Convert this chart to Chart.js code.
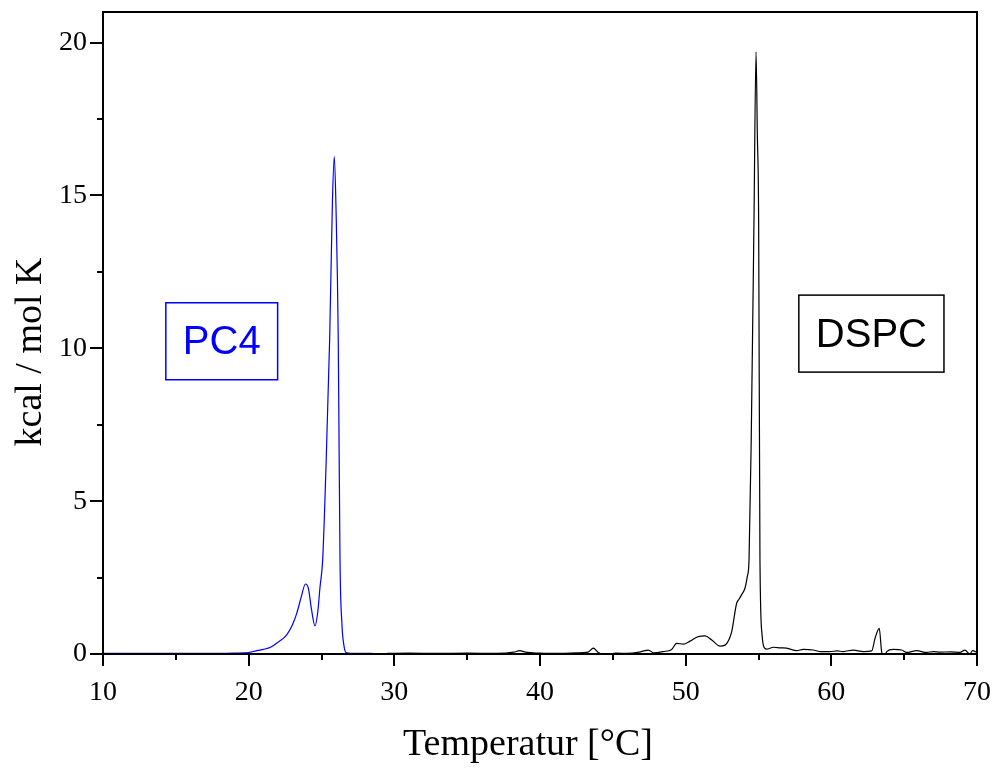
<!DOCTYPE html>
<html lang="de">
<head>
<meta charset="UTF-8">
<title>DSC PC4 / DSPC</title>
<style>
    html, body { margin: 0; padding: 0; background: #fff; overflow: hidden; }
    canvas { display: block; }
</style>
</head>
<body>
<canvas id="dsc" width="997" height="769"></canvas>
<script src="https://cdn.jsdelivr.net/npm/chart.js"></script>
<script>
    // PC4 Messkurve (Temperatur / Cp)
    const pc4Temp = [10, 12, 14, 16, 18, 19, 20, 20.5, 21, 21.5, 22, 22.6, 23, 23.3, 23.6, 23.9, 24.1, 24.3, 24.55,
        24.75, 24.9, 25.08, 25.3, 25.56, 25.75, 25.88, 26.0, 26.15, 26.27, 26.4, 26.55, 26.68, 27, 28, 28.5];
    const pc4Cp = [0.02, 0.02, 0.02, 0.02, 0.02, 0.03, 0.05, 0.1, 0.15, 0.22, 0.38, 0.62, 0.95, 1.33, 1.85, 2.29, 2.15, 1.5, 0.92,
        1.4, 2.2, 3.07, 6.0, 10.3, 14.8, 16.27, 14.5, 10.3, 3.07, 1.0, 0.25, 0.05, 0.02, 0.02, 0.02];

    // DSPC Messkurve
    const dspcTemp = [29.5, 31, 33, 35, 37, 38.2, 38.6, 39.0, 40, 41.5, 42.5, 43.3, 43.66, 44.0, 44.57, 45.2, 46, 46.8,
        47.44, 47.8, 48.46, 49.04, 49.38, 49.84, 50.3, 50.87, 51.33, 51.79, 52.36, 52.7, 53.0, 53.16, 53.5, 53.66,
        53.85, 54.07, 54.23, 54.35, 54.5, 54.69, 54.83, 54.92, 55.01, 55.1, 55.25, 55.38, 55.56, 56.02, 56.5, 56.93,
        57.62, 58.08, 58.76, 59.22, 59.9, 60.4, 60.82, 61.5, 62.2, 62.77, 63.0, 63.29, 63.45, 63.61, 63.8, 64.25,
        64.83, 65.17, 65.86, 66.54, 67.0, 67.46, 68.2, 68.83, 69.17, 69.51, 69.7, 70];
    const dspcCp = [0.02, 0.03, 0.02, 0.03, 0.02, 0.06, 0.11, 0.06, 0.03, 0.02, 0.04, 0.06, 0.19, 0.05, -0.03, 0.03, 0.02, 0.06,
        0.13, 0.04, 0.08, 0.15, 0.35, 0.32, 0.42, 0.57, 0.59, 0.46, 0.26, 0.29, 0.5, 0.73, 1.66, 1.79,
        1.95, 2.15, 2.53, 3.07, 7.0, 14.2, 19.7, 17.0, 14.2, 3.07, 0.6, 0.22, 0.16, 0.22, 0.2, 0.19,
        0.11, 0.15, 0.13, 0.08, 0.08, 0.1, 0.08, 0.13, 0.08, 0.1, 0.51, 0.84, 0.08, -0.14, 0.08, 0.15,
        0.13, 0.05, 0.11, 0.05, 0.08, 0.06, 0.07, 0.05, 0.13, 0.0, 0.11, 0.05];

    // Achsen
    const xTicksMajor = [10, 20, 30, 40, 50, 60, 70];
    const yTicksMajor = [0, 5, 10, 15, 20];

    // Beschriftungsboxen in Datenkoordinaten
    const labelBoxes = [
        { text: 'PC4', x: 18.15, y: 10.23, color: '#0000ff' },
        { text: 'DSPC', x: 62.75, y: 10.48, color: '#000000' }
    ];

    function toXY(xs, ys) {
        return xs.map((x, i) => ({ x: x, y: ys[i] }));
    }

    // Rahmen, Teilstriche, Titel und Boxen
    const framePlugin = {
        id: 'frame',
        afterDatasetsDraw(chart) {
            const ctx = chart.ctx;
            const a = chart.chartArea;
            const xs = chart.scales.x;
            const ys = chart.scales.y;
            ctx.save();
            ctx.strokeStyle = '#000';
            ctx.lineWidth = 2;
            ctx.strokeRect(a.left, a.top, a.right - a.left, a.bottom - a.top);

            ctx.beginPath();
            for (let v = 10; v <= 70; v += 5) {
                const px = Math.round(xs.getPixelForValue(v));
                const len = (v % 10 === 0) ? 12 : 6;
                ctx.moveTo(px, a.bottom);
                ctx.lineTo(px, a.bottom + len);
            }
            for (let v = 0; v <= 20; v += 2.5) {
                const py = Math.round(ys.getPixelForValue(v));
                const len = (v % 5 === 0) ? 13 : 6;
                ctx.moveTo(a.left, py);
                ctx.lineTo(a.left - len, py);
            }
            ctx.stroke();

            // Boxen
            ctx.font = '40px "Liberation Sans", Arial, sans-serif';
            ctx.textAlign = 'center';
            ctx.textBaseline = 'middle';
            labelBoxes.forEach(b => {
                const cx = xs.getPixelForValue(b.x);
                const cy = ys.getPixelForValue(b.y);
                const w = ctx.measureText(b.text).width + 34;
                const h = 77;
                ctx.strokeStyle = b.color;
                ctx.lineWidth = 1.5;
                ctx.strokeRect(cx - w / 2, cy - h / 2, w, h);
                ctx.fillStyle = b.color;
                ctx.fillText(b.text, cx, cy + 2);
            });

            // Achsentitel
            ctx.fillStyle = '#000';
            ctx.font = '38px "Liberation Serif", "Times New Roman", serif';
            ctx.textBaseline = 'alphabetic';
            ctx.fillText('Temperatur [°C]', 528, 755);
            ctx.save();
            ctx.translate(41, 352);
            ctx.rotate(-Math.PI / 2);
            ctx.fillText('kcal / mol K', 0, 0);
            ctx.restore();
            ctx.restore();
        }
    };

    const ctx = document.getElementById('dsc');
    new Chart(ctx, {
        type: 'line',
        data: {
            datasets: [{
                label: 'PC4',
                data: toXY(pc4Temp, pc4Cp),
                borderColor: '#0000ff',
                borderWidth: 1.2,
                pointRadius: 0,
                cubicInterpolationMode: 'monotone',
                fill: false
            }, {
                label: 'DSPC',
                data: toXY(dspcTemp, dspcCp),
                borderColor: '#000000',
                borderWidth: 1.2,
                pointRadius: 0,
                cubicInterpolationMode: 'monotone',
                fill: false
            }]
        },
        options: {
            responsive: false,
            animation: false,
            devicePixelRatio: 1,
            layout: { padding: { top: 12, right: 20, left: 0, bottom: 0 } },
            plugins: {
                legend: { display: false },
                tooltip: { enabled: false }
            },
            scales: {
                x: {
                    type: 'linear',
                    min: 10,
                    max: 70,
                    grid: { display: false, drawTicks: false },
                    border: { display: false },
                    afterBuildTicks: s => { s.ticks = xTicksMajor.map(v => ({ value: v })); },
                    afterFit: s => {
                        s.height = 115;
                        s.paddingLeft = 0;
                        s.paddingRight = 0;
                    },
                    ticks: {
                        padding: 22,
                        color: '#000',
                        maxRotation: 0,
                        font: { family: '"Liberation Serif", "Times New Roman", serif', size: 28 }
                    }
                },
                y: {
                    type: 'linear',
                    min: 0,
                    max: 21,
                    grid: { display: false, drawTicks: false },
                    border: { display: false },
                    afterBuildTicks: s => { s.ticks = yTicksMajor.map(v => ({ value: v })); },
                    afterFit: s => {
                        s.width = 103;
                        s.paddingTop = 0;
                        s.paddingBottom = 0;
                    },
                    ticks: {
                        padding: 16,
                        color: '#000',
                        font: { family: '"Liberation Serif", "Times New Roman", serif', size: 28 }
                    }
                }
            }
        },
        plugins: [framePlugin]
    });
</script>
</body>
</html>
